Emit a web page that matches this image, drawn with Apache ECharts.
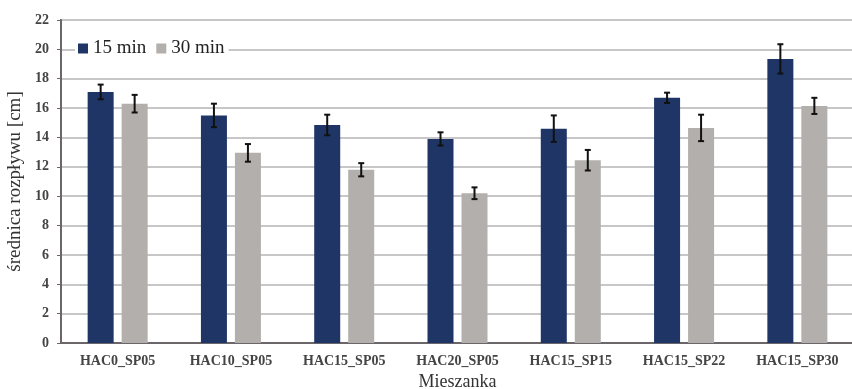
<!DOCTYPE html>
<html><head><meta charset="utf-8">
<script src="https://cdn.jsdelivr.net/npm/echarts@6/dist/echarts.min.js"></script>
<style>html,body{margin:0;padding:0;background:#fff}#c{width:852px;height:389px}</style>
</head><body><div id="c"></div>
<script>
var categories = ['HAC0_SP05','HAC10_SP05','HAC15_SP05','HAC20_SP05','HAC15_SP15','HAC15_SP22','HAC15_SP30'];
var values15 = [17.1, 15.5, 14.85, 13.9, 14.6, 16.7, 19.35];
var err15 = [0.5, 0.8, 0.7, 0.45, 0.9, 0.35, 1.0];
var values30 = [16.3, 12.95, 11.8, 10.2, 12.45, 14.65, 16.15];
var err30 = [0.6, 0.6, 0.45, 0.4, 0.7, 0.9, 0.55];
var yTicks = [0,2,4,6,8,10,12,14,16,18,20,22];

var FONT = '"Liberation Serif", "DejaVu Serif", serif';
var BAR_W = 26, GAP = 8;
function errSeries(vals, errs, side) {
  return {
    type: 'custom',
    z: 10,
    silent: true,
    data: vals.map(function (v, i) { return [i, v - errs[i], v + errs[i]]; }),
    renderItem: function (params, api) {
      var lo = api.coord([api.value(0), api.value(1)]);
      var hi = api.coord([api.value(0), api.value(2)]);
      var x = lo[0] + side * (BAR_W + GAP) / 2;
      var cap = 3;
      var st = { stroke: '#111', lineWidth: 2 };
      return { type: 'group', children: [
        { type: 'line', shape: { x1: x, y1: lo[1], x2: x, y2: hi[1] }, style: st },
        { type: 'line', shape: { x1: x - cap, y1: lo[1], x2: x + cap, y2: lo[1] }, style: st },
        { type: 'line', shape: { x1: x - cap, y1: hi[1], x2: x + cap, y2: hi[1] }, style: st }
      ]};
    }
  };
}

var chart = echarts.init(document.getElementById('c'));
chart.setOption({
  backgroundColor: '#fff',
  animation: false,
  textStyle: { fontFamily: FONT },
  grid: { left: 61, right: -2, top: 20, bottom: 46, containLabel: false, outerBoundsMode: 'none',
    show: true, borderColor: '#7a767a', borderWidth: 2, backgroundColor: 'transparent' },
  legend: {
    left: 75, top: 37,
    backgroundColor: '#fff',
    padding: [2, 4, 2, 3],
    itemWidth: 10, itemHeight: 10, itemGap: 10,
    icon: 'rect',
    textStyle: { fontFamily: FONT, fontSize: 19, color: '#222' },
    data: ['15 min', '30 min']
  },
  xAxis: {
    type: 'category',
    data: categories,
    name: 'Mieszanka',
    nameLocation: 'middle',
    nameGap: 30,
    nameTextStyle: { fontFamily: FONT, fontSize: 18, color: '#333' },
    axisLine: { lineStyle: { color: '#6a666a', width: 2 } },
    axisTick: { show: false },
    axisLabel: { fontFamily: FONT, fontSize: 14, fontWeight: 'bold', color: '#444', margin: 11 }
  },
  yAxis: {
    type: 'value',
    min: 0, max: 22, interval: 2,
    name: 'średnica rozpływu [cm]',
    nameLocation: 'middle',
    nameGap: 26,
    nameTextStyle: { fontFamily: FONT, fontSize: 19, color: '#333' },
    axisLine: { show: true, lineStyle: { color: '#6a666a', width: 2 } },
    axisTick: { show: true, length: 4, lineStyle: { color: '#6a666a' } },
    axisLabel: { fontFamily: FONT, fontSize: 14, fontWeight: 'bold', color: '#444', margin: 12,
      formatter: function (v) { return yTicks.indexOf(v) >= 0 ? String(v) : ''; } },
    splitLine: { lineStyle: { color: '#c8c6c8', width: 2 } }
  },
  series: [
    { name: '15 min', type: 'bar', data: values15, barWidth: BAR_W, barGap: (GAP / BAR_W * 100) + '%',
      itemStyle: { color: '#1e3566' } },
    { name: '30 min', type: 'bar', data: values30, barWidth: BAR_W,
      itemStyle: { color: '#b2afac' } },
    errSeries(values15, err15, -1),
    errSeries(values30, err30, 1)
  ]
});
</script></body></html>
